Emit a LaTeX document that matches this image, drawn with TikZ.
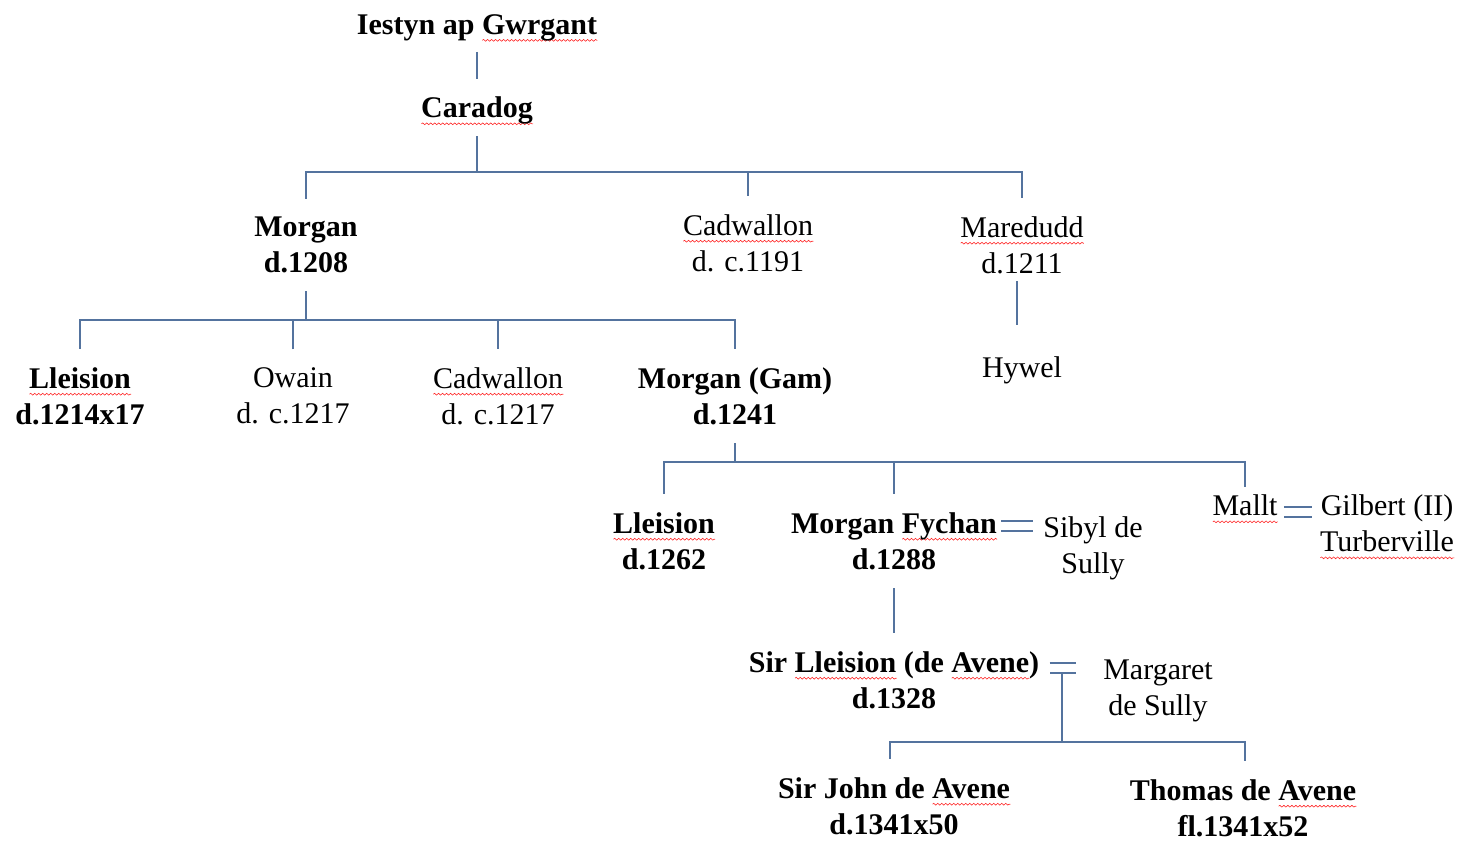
\documentclass[tikz,border=0pt]{standalone}
\usepackage{fontspec}
\setmainfont{Liberation Serif}
\usetikzlibrary{decorations.pathmorphing}
\definecolor{linkblue}{RGB}{84,115,158}

% red wavy underline as the spell checker shows it
\newsavebox\sqbox
\newlength\sqwd
\newcommand\sq[1]{\sbox\sqbox{#1}\setlength\sqwd{\wd\sqbox}%
  \rlap{\tikz[baseline=0pt]\draw[red!85,line width=0.3pt,decorate,
      decoration={snake,amplitude=0.45pt,segment length=2pt}]
      (0pt,-3pt) -- (\sqwd,-3pt);}\usebox\sqbox}

\begin{document}
\begin{tikzpicture}[x=0.5pt,y=-0.5pt,
    font=\fontsize{15}{18}\selectfont,
    person/.style={align=center,inner xsep=2pt,inner ysep=9pt},
    lord/.style={person,font=\fontsize{15}{18}\selectfont\bfseries},
    kin/.style={draw=linkblue,line width=0.7pt},
    wed/.style={kin,double=white,double distance=4.3pt}]

    \useasboundingbox (0,0) rectangle (1459,841);

    \node[lord,inner ysep=5pt] (iestyn) at (477,28) {Iestyn ap \sq{Gwrgant}};
    \node[lord] (caradog) at (477,111) {\sq{Caradog}};

    \node[lord] (morgan) at (306,245) {Morgan\\d.1208};
    \node[person] (cadw) at (748,243) {\sq{Cadwallon}\\d. c.1191};
    \node[person] (mared) at (1022,245) {\sq{Maredudd}\\d.1211};
    \node[person] (hywel) at (1022,370) {Hywel};

    \node[lord] (lleisA) at (80,396) {\sq{Lleision}\\d.1214x17};
    \node[person] (owain) at (293,396) {Owain\\d. c.1217};
    \node[person] (cadwB) at (498,396) {\sq{Cadwallon}\\d. c.1217};
    \node[lord] (gam) at (735,396) {Morgan (Gam)\\d.1241};

    \node[lord] (lleisB) at (664,541) {\sq{Lleision}\\d.1262};
    \node[lord] (fychan) at (894,541) {Morgan \sq{Fychan}\\d.1288};
    \node[person] (sibyl) at (1093,548) {Sibyl de\\Sully};
    \node[person,inner ysep=4pt] (mallt) at (1245,509) {\sq{Mallt}};
    \node[person] (gilbert) at (1387,527) {Gilbert (II)\\\sq{Turberville}};

    \node[lord] (sirL) at (894,680) {Sir \sq{Lleision} (de \sq{Avene})\\d.1328};
    \node[person] (margaret) at (1158,691) {Margaret\\de Sully};

    \node[lord] (john) at (894,806) {Sir John de \sq{Avene}\\d.1341x50};
    \node[lord] (thomas) at (1243,808) {Thomas de \sq{Avene}\\fl.1341x52};

    \coordinate (bus1) at (0,172);
    \coordinate (bus2) at (0,320);
    \coordinate (bus3) at (0,462);
    \coordinate (bus4) at (0,742);
    \coordinate (wedL) at (1062,668);

    \draw[kin] (iestyn) -- (caradog);
    \draw[kin,shorten <=-3.5pt] (caradog) -- (caradog |- bus1);
    \draw[kin] (morgan) |- (mared.north |- bus1) -- (mared);
    \draw[kin] (cadw) -- (cadw |- bus1);
    \draw[kin,shorten <=-5.5pt,shorten >=6.5pt] ([xshift=-2.5pt]mared.south) -- ([xshift=-2.5pt]hywel.north);

    \draw[kin] (morgan) -- (morgan |- bus2);
    \draw[kin] (lleisA) |- (gam.north |- bus2) -- (gam);
    \draw[kin] (owain) -- (owain |- bus2);
    \draw[kin] (cadwB) -- (cadwB |- bus2);

    \draw[kin] (gam) -- (gam |- bus3);
    \draw[kin] (lleisB) |- (mallt.north |- bus3) -- (mallt);
    \draw[kin] (fychan) -- (fychan |- bus3);
    \draw[wed,shorten >=3pt] ([yshift=7.5pt]fychan.east) -- ([yshift=7.5pt]fychan.east -| sibyl.west);
    \draw[wed,shorten <=1pt,shorten >=2pt] ([yshift=-1.5pt]mallt.east) -- ([yshift=-1.5pt]mallt.east -| gilbert.west);

    \draw[kin] (fychan) -- (sirL);
    \draw[wed,shorten <=3pt,shorten >=11.5pt] (sirL.east |- wedL) -- (margaret.west |- wedL);
    \draw[kin] ([yshift=-2.5pt]wedL) -- (wedL |- bus4);
    \draw[kin] ([xshift=-2pt]john.north) |- ([xshift=1pt]thomas.north |- bus4) -- ([xshift=1pt]thomas.north);

\end{tikzpicture}
\end{document}
